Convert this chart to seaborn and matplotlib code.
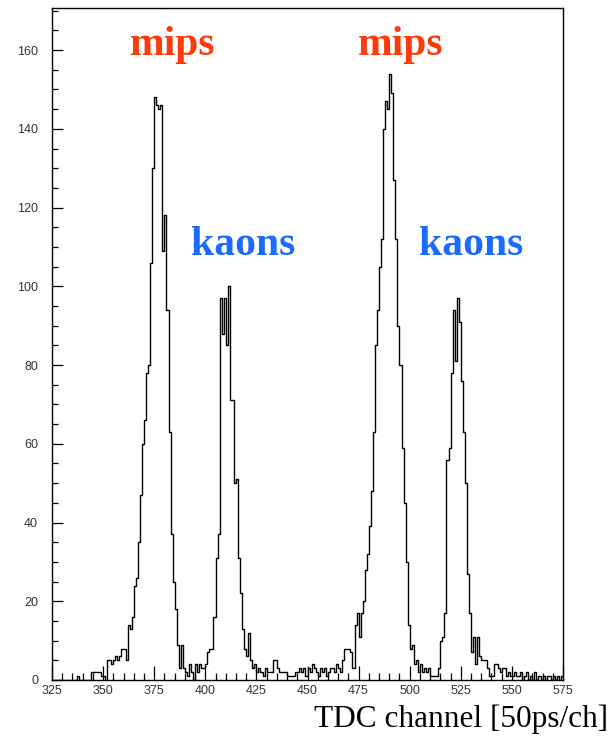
import numpy as np
import pandas as pd
import matplotlib
matplotlib.use("Agg")
import matplotlib.pyplot as plt
import seaborn as sns
from matplotlib.ticker import MultipleLocator

# ---- data: counts per TDC channel (bin width 1 channel) ----
first_channel = 325
last_channel = 575

counts_325_351 = [0] * 12 + [1] + [0] * 6 + [2, 2, 2, 2, 2, 1, 1, 0]
counts_352_366 = [5, 5, 4, 5, 6, 5, 6, 8, 8, 5, 14, 13, 16, 24, 26]
counts_mips1 = [35, 47, 60, 66, 78, 80, 106, 130, 148, 146, 145, 146, 109, 118,
                94, 63, 37, 25, 18, 9, 3, 9, 3]                       # 367-389
counts_390_406 = [2, 1, 4, 2, 0, 4, 2, 4, 3, 3, 4, 7, 8, 8, 16, 31, 37]
counts_kaons1 = [97, 88, 97, 85, 100, 71, 71, 50, 51, 31, 22, 13, 8, 6, 12, 5,
                 3, 4]                                                 # 407-424
counts_425_455 = [2, 3, 2, 1, 3, 2, 2, 2, 5, 5, 3, 2, 2, 2, 2, 1, 1, 1, 1, 2, 2,
                  3, 2, 3, 1, 3, 2, 4, 3, 2, 1]
counts_456_472 = [3, 2, 3, 1, 2, 3, 3, 2, 4, 3, 2, 5, 8, 8, 8, 7, 3]
counts_mips2 = [14, 17, 11, 17, 20, 28, 32, 39, 48, 63, 85, 94, 105, 112, 140,
                147, 145, 154, 149, 127, 112, 90, 80, 59, 45, 30, 14, 8, 9,
                4, 5]                                                  # 473-503
counts_504_517 = [2, 4, 2, 3, 2, 3, 1, 1, 1, 1, 3, 10, 11, 17]
counts_kaons2 = [56, 59, 78, 94, 81, 97, 91, 76, 63, 50, 27, 17, 7, 11, 4, 11,
                 6, 5, 5, 5, 3]                                        # 518-538
counts_539_574 = [1, 1, 4, 4, 3, 2, 3, 3, 1, 2, 1, 1, 2, 1, 1, 2, 0, 1, 2, 0,
                  1, 0, 2, 0, 1, 0, 1, 0, 1, 1, 0, 1, 0, 1, 0, 1]

counts = (counts_325_351 + counts_352_366 + counts_mips1 + counts_390_406 +
          counts_kaons1 + counts_425_455 + counts_456_472 + counts_mips2 +
          counts_504_517 + counts_kaons2 + counts_539_574)
channels = list(range(first_channel, first_channel + len(counts)))

peak_labels = ["mips", "kaons", "mips", "kaons"]
x_label = "TDC channel [50ps/ch]"

df = pd.DataFrame({"channel": [c + 0.5 for c in channels],
                   "count": [float(v) for v in counts]})

# ---- style ----
sns.set_theme(style="white")
plt.rcParams["font.family"] = ["Liberation Sans", "DejaVu Sans"]

W, H = 612, 736
fig = plt.figure(figsize=(W / 100, H / 100), dpi=100)
ax = fig.add_axes([52 / W, 56 / H, 511 / W, 672 / H])

sns.histplot(data=df, x="channel", weights="count",
             binwidth=1, binrange=(first_channel, last_channel),
             element="step", fill=False, color="black", ax=ax)
for ln in ax.lines:
    ln.set_linewidth(1.0)

ax.set_xlim(first_channel, last_channel)
ax.set_ylim(0, 170.7)
ax.set_xlabel("")
ax.set_ylabel("")

for s in ax.spines.values():
    s.set_visible(True)
    s.set_color("black")
    s.set_linewidth(1.0)

ax.xaxis.set_major_locator(MultipleLocator(25))
ax.xaxis.set_minor_locator(MultipleLocator(5))
ax.yaxis.set_major_locator(MultipleLocator(20))
ax.yaxis.set_minor_locator(MultipleLocator(5))

ax.tick_params(axis="x", which="major", direction="in", length=10, width=0.9,
               pad=3.5, labelsize=9, labelcolor="#333333", color="black",
               top=False, bottom=True)
ax.tick_params(axis="x", which="minor", direction="in", length=5, width=0.9,
               color="black", top=False, bottom=True)
ax.tick_params(axis="y", which="major", direction="in", length=8, width=0.9,
               pad=10, labelsize=9, labelcolor="#333333", color="black",
               left=True, right=False)
ax.tick_params(axis="y", which="minor", direction="in", length=4, width=0.9,
               color="black", left=True, right=False)

# ---- annotations ----
mips_color = "#ff3a0a"
kaon_color = "#1a6cff"
label_font = dict(family=["Liberation Serif", "DejaVu Serif"], weight="bold",
                  fontsize=30, ha="center", va="baseline")
label_pos = [(384.2, 158.8), (418.4, 108.0), (495.7, 158.8), (530.2, 108.0)]
label_col = [mips_color, kaon_color, mips_color, kaon_color]
for txt, (px, py), c in zip(peak_labels, label_pos, label_col):
    ax.text(px, py, txt, color=c, **label_font)

fig.text(608 / W, (H - 727) / H, x_label, ha="right", va="baseline",
         fontsize=22.5, family=["Liberation Serif", "DejaVu Serif"],
         color="black")

fig.savefig("out.png", dpi=100, facecolor="white")
